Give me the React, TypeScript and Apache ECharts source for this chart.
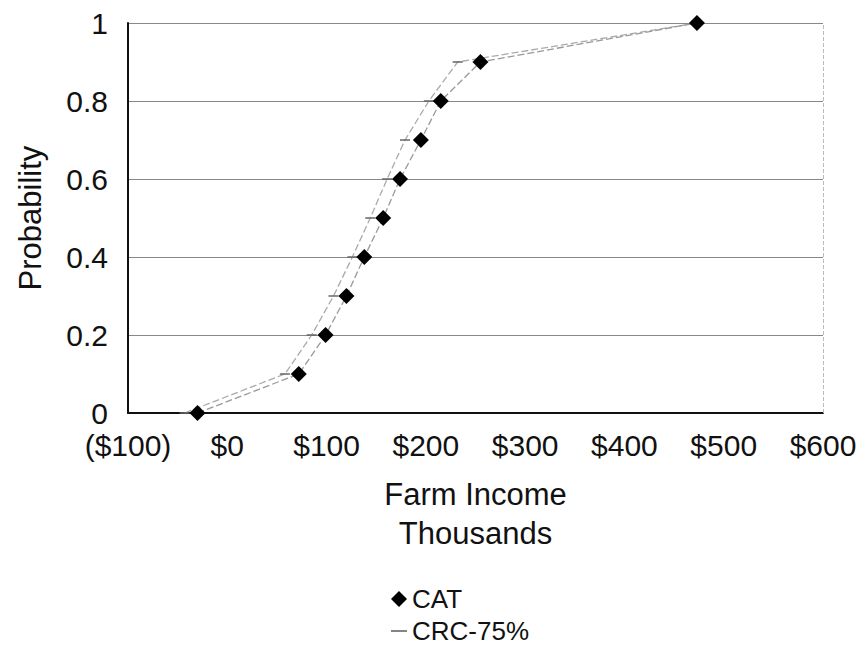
import React, { useEffect, useRef } from "react";
import * as echarts from "echarts";

// Cumulative probability levels shared by both distributions
const probabilities = [0, 0.1, 0.2, 0.3, 0.4, 0.5, 0.6, 0.7, 0.8, 0.9, 1.0];

// Farm income (thousands of dollars) at each probability level
const catIncome = [-30, 72, 99, 120, 138, 157, 174, 195, 215, 255, 473];
const crcIncome = [-43, 58, 85, 107, 126, 144, 161, 179, 203, 232, 473];

const seriesNames = ["CAT", "CRC-75%"];

const FONT = "Liberation Sans, Arial, sans-serif";

const formatDollars = (v: number) => (v < 0 ? `($${-v})` : `$${v}`);

export default function App() {
  const ref = useRef<HTMLDivElement>(null);

  useEffect(() => {
    if (!ref.current) return;
    const chart = echarts.init(ref.current, null, { renderer: "svg" });

    const pairs = (xs: number[]) => xs.map((x, i) => [x, probabilities[i]]);

    chart.setOption({
      animation: false,
      backgroundColor: "#ffffff",
      textStyle: { fontFamily: FONT },
      grid: { left: 128, right: 41, top: 23, bottom: 235, containLabel: false },
      legend: {
        orient: "vertical",
        left: 386,
        top: 581,
        height: 66,
        itemGap: 6,
        itemWidth: 16,
        itemHeight: 16,
        textStyle: { fontSize: 26, color: "#111", fontFamily: FONT },
        data: [
          { name: seriesNames[0], icon: "diamond" },
          { name: seriesNames[1], icon: "path://M0,0H14V1.4H0Z", itemStyle: { color: "#666" } },
        ],
      },
      xAxis: {
        type: "value",
        min: -100,
        max: 600,
        interval: 100,
        name: "Farm Income\nThousands",
        nameLocation: "middle",
        nameGap: 62,
        nameTextStyle: { fontSize: 31, color: "#111", lineHeight: 39, fontFamily: FONT },
        axisLine: { show: true, onZero: false, lineStyle: { color: "#111", width: 2 } },
        axisTick: { show: false },
        splitLine: { show: false },
        axisLabel: {
          fontSize: 30,
          lineHeight: 28,
          color: "#111",
          margin: 18,
          formatter: formatDollars,
          fontFamily: FONT,
        },
      },
      yAxis: {
        type: "value",
        min: 0,
        max: 1,
        interval: 0.2,
        name: "Probability",
        nameLocation: "middle",
        nameGap: 82,
        nameTextStyle: { fontSize: 31, color: "#111", fontFamily: FONT },
        axisLine: { show: true, onZero: false, lineStyle: { color: "#111", width: 2 } },
        axisTick: { show: false },
        splitLine: { show: true, lineStyle: { color: "#888", width: 1 } },
        axisLabel: { fontSize: 30, lineHeight: 26, color: "#111", margin: 20, fontFamily: FONT },
      },
      series: [
        {
          name: seriesNames[1],
          type: "line",
          data: pairs(crcIncome),
          symbol: "rect",
          symbolSize: [10, 1.5],
          itemStyle: { color: "#666" },
          lineStyle: { color: "#aaa", width: 1.3, type: [7, 3] },
          z: 2,
        },
        {
          name: seriesNames[0],
          type: "line",
          data: pairs(catIncome),
          symbol: "diamond",
          symbolSize: 16,
          itemStyle: { color: "#000" },
          lineStyle: { color: "#999", width: 1.3, type: [7, 3] },
          z: 3,
        },
        {
          // dashed right-hand border of the plot area
          type: "line",
          silent: true,
          data: [],
          markLine: {
            silent: true,
            symbol: "none",
            label: { show: false },
            lineStyle: { color: "#bbb", type: "dashed", width: 1 },
            data: [{ xAxis: 600 }],
          },
        },
      ],
    });

    return () => chart.dispose();
  }, []);

  return (
    <div
      ref={ref}
      style={{ position: "fixed", left: 0, top: 0, width: 864, height: 648 }}
    />
  );
}
